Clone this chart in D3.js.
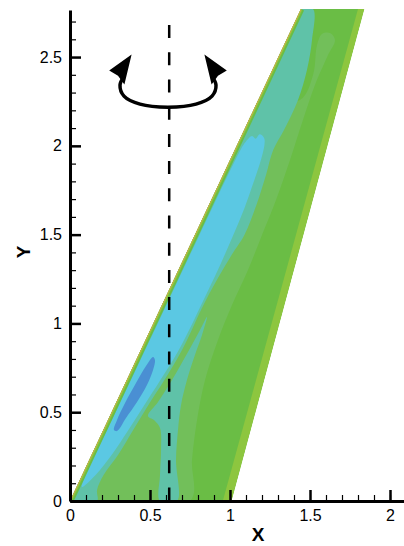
<!DOCTYPE html>
<html><head><meta charset="utf-8">
<script src="https://cdn.jsdelivr.net/npm/d3@7/dist/d3.min.js"></script>
<style>
html,body{margin:0;padding:0;background:#fff;}
svg{display:block;font-family:"Liberation Sans",Arial,sans-serif;}
</style></head>
<body>
<svg id="chart" width="404" height="546"></svg>
<script>
// ---- axis ticks ----
const xMajorTicks = [0, 0.5, 1, 1.5, 2];
const yMajorTicks = [0, 0.5, 1, 1.5, 2, 2.5];
const xMinorTicks = [0.1,0.2,0.3,0.4,0.6,0.7,0.8,0.9,1.1,1.2,1.3,1.4,1.6,1.7,1.8,1.9,2.0];
const yMinorTicks = [0.1,0.2,0.3,0.4,0.6,0.7,0.8,0.9,1.1,1.2,1.3,1.4,1.6,1.7,1.8,1.9,2.1,2.2,2.3,2.4,2.6,2.7];
const xTitle = "X", yTitle = "Y";

// ---- wing planform (X, Y) ----
const wing = [[0,0],[1.01,0],[1.84,2.77],[1.443,2.77]];
const leadingEdge = [[0,0],[1.443,2.77]];
const trailingStrip = [[0.955,0],[1.01,0],[1.84,2.77],[1.80,2.77]];

// ---- contour level regions (X, Y) ----
const levelMid = [[0,0],[0.75,0],[0.7625,0.231],[0.794,0.456],[0.844,0.681],[0.925,0.907],[1.0125,1.104],[1.1125,1.301],[1.2,1.498],[1.2875,1.695],[1.375,1.920],[1.456,2.145],[1.531,2.342],[1.6125,2.511],[1.656,2.596],[1.625,2.635],[1.575,2.630],[1.544,2.568],[1.519,2.399],[1.4375,2.258],[1.176,2.258]];
const levelTealA = [[1.443,2.77],[1.519,2.77],[1.5125,2.596],[1.481,2.427],[1.425,2.258],[1.3375,2.089],[1.27,1.976],[1.225,1.836],[1.165,1.667],[1.09,1.498],[1.01,1.385],[0.85,1.132],[0.70,0.850],[0.59,0.681],[0.49,0.541],[0.395,0.400],[0.30,0.259],[0.21,0.146],[0.169,0.062],[0.169,0],[0,0]];
const levelTealB = [[0.856,1.036],[0.825,0.935],[0.781,0.822],[0.731,0.681],[0.694,0.541],[0.675,0.400],[0.6625,0.231],[0.669,0],[0.5625,0],[0.5625,0.146],[0.569,0.287],[0.5625,0.411],[0.525,0.456],[0.4875,0.479],[0.55,0.557],[0.6375,0.681],[0.7375,0.839],[0.8125,0.963]];
const levelCyan = [[0.075,0.079],[0.10,0.15],[0.285,0.5],[0.548,1.0],[0.81,1.5],[1.08,2.0],[1.10,2.025],[1.1375,2.055],[1.16,2.04],[1.185,2.065],[1.215,2.04],[1.12,1.723],[0.98,1.413],[0.835,1.132],[0.68,0.850],[0.565,0.681],[0.465,0.541],[0.365,0.400],[0.26,0.259],[0.16,0.146]];
const levelBlue = [[0.519,0.811],[0.475,0.760],[0.4125,0.664],[0.344,0.552],[0.294,0.456],[0.275,0.400],[0.294,0.394],[0.35,0.467],[0.419,0.557],[0.481,0.653],[0.519,0.738],[0.531,0.794]];

// ---- rotation axis annotation (X, Y) ----
const rotAxisX = 0.62, rotAxisTop = 2.68;
const rotArc = [[0.3375,2.39],[0.3125,2.342],[0.3375,2.280],[0.4375,2.235],[0.6125,2.218],[0.7875,2.235],[0.8875,2.280],[0.9125,2.342],[0.8875,2.39]];
const arrowLeft = [[0.385,2.515],[0.245,2.425],[0.3,2.395],[0.34,2.345]];
const arrowRight = [[0.84,2.515],[0.98,2.425],[0.925,2.395],[0.885,2.345]];

const colors = {
  edge: "#8dc63f", base: "#6abd45", mid: "#72bf5a", teal: "#5fc2a8",
  cyan: "#5bc8e3", blue: "#4a8fd3", rim: "#d8a948"
};

const svg = d3.select("#chart");
const x = d3.scaleLinear([0, 2.0875], [70, 404]);
const y = d3.scaleLinear([0, 2.765], [501, 10]);

const lin = d3.line().x(d => x(d[0])).y(d => y(d[1]));
const closed = d3.line().x(d => x(d[0])).y(d => y(d[1])).curve(d3.curveLinearClosed);
const smooth = d3.line().x(d => x(d[0])).y(d => y(d[1])).curve(d3.curveCatmullRomClosed.alpha(0.5));

const defs = svg.append("defs");
defs.append("clipPath").attr("id","wingClip").append("path").attr("d", closed(wing));

const g = svg.append("g").attr("clip-path","url(#wingClip)");
g.append("path").attr("d", closed(wing)).attr("fill", colors.base);
g.append("path").attr("d", smooth(levelMid)).attr("fill", colors.mid);
g.append("path").attr("d", smooth(levelTealA)).attr("fill", colors.teal);
g.append("path").attr("d", smooth(levelTealB)).attr("fill", colors.teal);
g.append("path").attr("d", smooth(levelCyan)).attr("fill", colors.cyan);
g.append("path").attr("d", smooth(levelBlue)).attr("fill", colors.blue);
g.append("path").attr("d", closed(trailingStrip)).attr("fill", colors.edge);
g.append("path").attr("d", lin(leadingEdge)).attr("stroke", colors.base).attr("stroke-width", 7).attr("fill","none");
g.append("path").attr("d", lin(leadingEdge)).attr("stroke", colors.edge).attr("stroke-width", 3.5).attr("fill","none");
g.append("path").attr("d", lin(leadingEdge)).attr("stroke", colors.rim).attr("stroke-width", 1.4).attr("fill","none");

// ---- axes ----
const xMinor = svg.append("g").attr("transform",`translate(0,${y(0)})`)
  .call(d3.axisBottom(x).tickValues(xMinorTicks).tickSize(-6).tickSizeOuter(0).tickFormat(""));
xMinor.select(".domain").remove();
xMinor.selectAll(".tick line").attr("stroke","#000").attr("stroke-width",1.2);
const yMinor = svg.append("g").attr("transform",`translate(${x(0)},0)`)
  .call(d3.axisLeft(y).tickValues(yMinorTicks).tickSize(-6).tickSizeOuter(0).tickFormat(""));
yMinor.select(".domain").remove();
yMinor.selectAll(".tick line").attr("stroke","#000").attr("stroke-width",1.2);

function styleMajor(sel){
  sel.select(".domain").attr("stroke","#000").attr("stroke-width", 3);
  sel.selectAll(".tick line").attr("stroke","#000").attr("stroke-width",2.5);
  sel.selectAll(".tick text").attr("font-size",16).attr("fill","#000").attr("font-family","Liberation Sans, Arial, sans-serif");
}
const xAx = svg.append("g").attr("transform",`translate(0,${y(0)})`)
  .call(d3.axisBottom(x).tickValues(xMajorTicks).tickSize(-11).tickSizeOuter(0).tickPadding(9).tickFormat(d => String(d)));
styleMajor(xAx);
const yAx = svg.append("g").attr("transform",`translate(${x(0)},0)`)
  .call(d3.axisLeft(y).tickValues(yMajorTicks).tickSize(-11).tickSizeOuter(0).tickPadding(8).tickFormat(d => String(d)));
styleMajor(yAx);

svg.append("text").attr("x", 258).attr("y", 541).attr("text-anchor","middle")
  .attr("font-size",19).attr("font-weight","bold").text(xTitle);
svg.append("text").attr("transform","translate(30,252) rotate(-90)").attr("text-anchor","middle")
  .attr("font-size",19).attr("font-weight","bold").text(yTitle);

// ---- rotation axis + arrow ----
svg.append("line").attr("x1", x(rotAxisX)).attr("x2", x(rotAxisX)).attr("y1", y(rotAxisTop)).attr("y2", y(0))
  .attr("stroke","#000").attr("stroke-width",2.5).attr("stroke-dasharray","13,14.2");
svg.append("path").attr("d", d3.line().x(d=>x(d[0])).y(d=>y(d[1])).curve(d3.curveCatmullRom.alpha(0.5))(rotArc))
  .attr("fill","none").attr("stroke","#000").attr("stroke-width",3.5);
[arrowLeft, arrowRight].forEach(a => svg.append("path").attr("d", closed(a)).attr("fill","#000"));
</script>
</body></html>
